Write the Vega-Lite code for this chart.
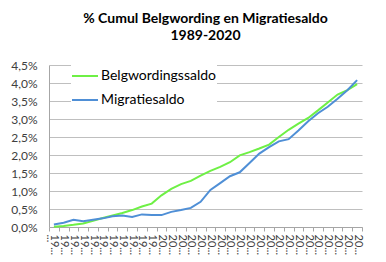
{
  "$schema": "https://vega.github.io/schema/vega-lite/v6.json",
  "width": 313,
  "height": 162,
  "autosize": {"type": "none"},
  "padding": {"left": 49, "top": 65, "right": 24, "bottom": 35},
  "background": "white",
  "title": {
    "text": ["% Cumul Belgwording en Migratiesaldo", "1989-2020"],
    "font": "Lato",
    "fontSize": 14,
    "fontWeight": "bold",
    "color": "#000000",
    "anchor": "middle",
    "frame": "group",
    "offset": 16,
    "lineHeight": 17
  },
  "data": {
    "values": [
      {"year": "1989", "series": "Belgwordingssaldo", "value": 0.01},
      {"year": "1990", "series": "Belgwordingssaldo", "value": 0.03},
      {"year": "1991", "series": "Belgwordingssaldo", "value": 0.06},
      {"year": "1992", "series": "Belgwordingssaldo", "value": 0.10},
      {"year": "1993", "series": "Belgwordingssaldo", "value": 0.17},
      {"year": "1994", "series": "Belgwordingssaldo", "value": 0.25},
      {"year": "1995", "series": "Belgwordingssaldo", "value": 0.32},
      {"year": "1996", "series": "Belgwordingssaldo", "value": 0.39},
      {"year": "1997", "series": "Belgwordingssaldo", "value": 0.47},
      {"year": "1998", "series": "Belgwordingssaldo", "value": 0.57},
      {"year": "1999", "series": "Belgwordingssaldo", "value": 0.65},
      {"year": "2000", "series": "Belgwordingssaldo", "value": 0.88},
      {"year": "2001", "series": "Belgwordingssaldo", "value": 1.06},
      {"year": "2002", "series": "Belgwordingssaldo", "value": 1.19},
      {"year": "2003", "series": "Belgwordingssaldo", "value": 1.28},
      {"year": "2004", "series": "Belgwordingssaldo", "value": 1.43},
      {"year": "2005", "series": "Belgwordingssaldo", "value": 1.56},
      {"year": "2006", "series": "Belgwordingssaldo", "value": 1.67},
      {"year": "2007", "series": "Belgwordingssaldo", "value": 1.80},
      {"year": "2008", "series": "Belgwordingssaldo", "value": 1.99},
      {"year": "2009", "series": "Belgwordingssaldo", "value": 2.08},
      {"year": "2010", "series": "Belgwordingssaldo", "value": 2.18},
      {"year": "2011", "series": "Belgwordingssaldo", "value": 2.29},
      {"year": "2012", "series": "Belgwordingssaldo", "value": 2.50},
      {"year": "2013", "series": "Belgwordingssaldo", "value": 2.70},
      {"year": "2014", "series": "Belgwordingssaldo", "value": 2.87},
      {"year": "2015", "series": "Belgwordingssaldo", "value": 3.03},
      {"year": "2016", "series": "Belgwordingssaldo", "value": 3.24},
      {"year": "2017", "series": "Belgwordingssaldo", "value": 3.46},
      {"year": "2018", "series": "Belgwordingssaldo", "value": 3.68},
      {"year": "2019", "series": "Belgwordingssaldo", "value": 3.80},
      {"year": "2020", "series": "Belgwordingssaldo", "value": 3.97},
      {"year": "1989", "series": "Migratiesaldo", "value": 0.07},
      {"year": "1990", "series": "Migratiesaldo", "value": 0.12},
      {"year": "1991", "series": "Migratiesaldo", "value": 0.20},
      {"year": "1992", "series": "Migratiesaldo", "value": 0.16},
      {"year": "1993", "series": "Migratiesaldo", "value": 0.20},
      {"year": "1994", "series": "Migratiesaldo", "value": 0.24},
      {"year": "1995", "series": "Migratiesaldo", "value": 0.30},
      {"year": "1996", "series": "Migratiesaldo", "value": 0.32},
      {"year": "1997", "series": "Migratiesaldo", "value": 0.28},
      {"year": "1998", "series": "Migratiesaldo", "value": 0.35},
      {"year": "1999", "series": "Migratiesaldo", "value": 0.33},
      {"year": "2000", "series": "Migratiesaldo", "value": 0.33},
      {"year": "2001", "series": "Migratiesaldo", "value": 0.42},
      {"year": "2002", "series": "Migratiesaldo", "value": 0.47},
      {"year": "2003", "series": "Migratiesaldo", "value": 0.53},
      {"year": "2004", "series": "Migratiesaldo", "value": 0.70},
      {"year": "2005", "series": "Migratiesaldo", "value": 1.03},
      {"year": "2006", "series": "Migratiesaldo", "value": 1.22},
      {"year": "2007", "series": "Migratiesaldo", "value": 1.41},
      {"year": "2008", "series": "Migratiesaldo", "value": 1.52},
      {"year": "2009", "series": "Migratiesaldo", "value": 1.78},
      {"year": "2010", "series": "Migratiesaldo", "value": 2.04},
      {"year": "2011", "series": "Migratiesaldo", "value": 2.22},
      {"year": "2012", "series": "Migratiesaldo", "value": 2.38},
      {"year": "2013", "series": "Migratiesaldo", "value": 2.44},
      {"year": "2014", "series": "Migratiesaldo", "value": 2.68},
      {"year": "2015", "series": "Migratiesaldo", "value": 2.94},
      {"year": "2016", "series": "Migratiesaldo", "value": 3.16},
      {"year": "2017", "series": "Migratiesaldo", "value": 3.34},
      {"year": "2018", "series": "Migratiesaldo", "value": 3.56},
      {"year": "2019", "series": "Migratiesaldo", "value": 3.80},
      {"year": "2020", "series": "Migratiesaldo", "value": 4.08}
    ]
  },
  "mark": {"type": "line", "strokeWidth": 2},
  "encoding": {
    "x": {
      "field": "year",
      "type": "ordinal",
      "bandPosition": 0.5,
      "scale": {"type": "band", "paddingInner": 0, "paddingOuter": 0},
      "axis": {
        "title": null,
        "tickBand": "extent",
        "labelAngle": 90,
        "labelAlign": "left",
        "labelBaseline": "middle",
        "labelExpr": "slice(datum.label, 0, 2) + '...'",
        "labelFont": "Lato",
        "labelFontSize": 11,
        "labelColor": "#404040",
        "labelPadding": 3,
        "tickSize": 4,
        "tickColor": "#a6a6a6",
        "domainColor": "#a6a6a6",
        "grid": false
      }
    },
    "y": {
      "field": "value",
      "type": "quantitative",
      "scale": {"domain": [0, 4.5], "nice": false},
      "axis": {
        "title": null,
        "values": [0, 0.5, 1, 1.5, 2, 2.5, 3, 3.5, 4, 4.5],
        "labelExpr": "replace(format(datum.value, '.1f'), '.', ',') + '%'",
        "labelFont": "Lato",
        "labelFontSize": 12,
        "labelColor": "#404040",
        "labelPadding": 12,
        "ticks": false,
        "domain": true,
        "domainColor": "#a6a6a6",
        "grid": true,
        "gridColor": "#bfbfbf",
        "gridWidth": 1
      }
    },
    "color": {
      "field": "series",
      "type": "nominal",
      "scale": {
        "domain": ["Belgwordingssaldo", "Migratiesaldo"],
        "range": ["#6ef045", "#4f8fd6"]
      },
      "legend": {
        "title": null,
        "orient": "none",
        "legendX": 22,
        "legendY": -3,
        "symbolType": "stroke",
        "symbolSize": 676,
        "symbolStrokeWidth": 2,
        "labelFont": "Lato",
        "labelFontSize": 14,
        "labelColor": "#000000",
        "labelOffset": 2,
        "rowPadding": 3,
        "fillColor": "white"
      }
    }
  },
  "config": {
    "view": {"stroke": null}
  }
}
